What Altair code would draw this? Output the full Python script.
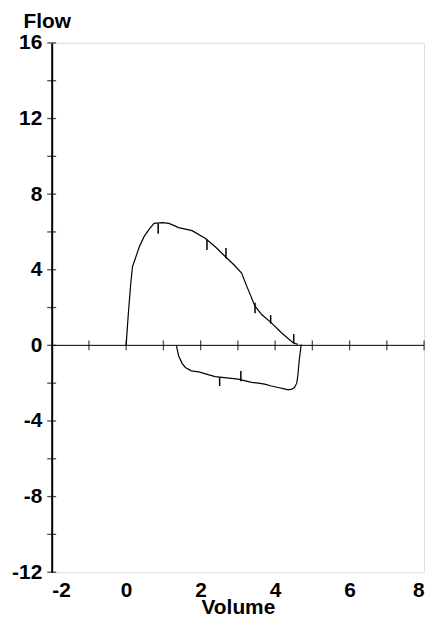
import altair as alt
import pandas as pd

# Expiratory limb (upper loop)
exp_vol = [0, 0.03, 0.06, 0.12, 0.17, 0.23, 0.35, 0.48, 0.62, 0.75, 0.97, 1.15, 1.41, 1.77,
           2.12, 2.4, 2.66, 2.9, 3.1, 3.24, 3.46, 3.64, 3.9, 4.17, 4.48, 4.61]
exp_flow = [0, 0.9, 1.72, 3.2, 4.17, 4.5, 5.2, 5.75, 6.15, 6.45, 6.49, 6.45, 6.23, 6.07,
            5.67, 5.2, 4.7, 4.25, 3.82, 3.12, 2.07, 1.63, 1.19, 0.67, 0.14, 0.05]

# Inspiratory limb (lower loop)
insp_vol = [1.35, 1.38, 1.41, 1.5, 1.59, 1.75, 1.95, 2.2, 2.39, 2.7, 3.01, 3.2, 3.37, 3.55,
            3.72, 3.9, 4.08, 4.25, 4.35, 4.45, 4.52, 4.58, 4.61, 4.65, 4.68, 4.7]
insp_flow = [0, -0.3, -0.56, -0.95, -1.17, -1.35, -1.4, -1.55, -1.65, -1.72, -1.79, -1.88,
             -1.96, -2.0, -2.05, -2.15, -2.23, -2.3, -2.35, -2.32, -2.23, -2.0, -1.61, -0.74,
             -0.3, 0.05]

# Small vertical markers on the curves
mark_vol = [0.86, 2.17, 2.68, 3.46, 3.88, 4.5, 2.51, 3.08]
mark_top = [6.45, 5.6, 5.15, 2.25, 1.6, 0.6, -1.7, -1.35]
mark_bot = [5.9, 5.05, 4.6, 1.7, 1.15, 0.1, -2.15, -1.9]

x_ticks = [-1, 0, 1, 2, 3, 4, 5, 6, 7, 8]
y_ticks = [16, 14, 12, 10, 8, 6, 4, 2, 0, -2, -4, -6, -8, -10, -12]
x_labels = [-2, 0, 2, 4, 6, 8]
y_labels = [16, 12, 8, 4, 0, -4, -8, -12]

FONT = "Liberation Sans"
HYPHEN_LABEL = "datum.value < 0 ? '-' + abs(datum.value) : '' + datum.value"

curve = pd.DataFrame({
    "vol": exp_vol + insp_vol,
    "flow": exp_flow + insp_flow,
    "limb": ["exp"] * len(exp_vol) + ["insp"] * len(insp_vol),
    "ord": list(range(len(exp_vol))) + list(range(len(insp_vol))),
})
markers = pd.DataFrame({"vol": mark_vol, "top": mark_top, "bot": mark_bot})
xt = pd.DataFrame({"v": x_ticks, "z": [0] * len(x_ticks)})
yt = pd.DataFrame({"v": y_ticks, "z": [-2] * len(y_ticks)})

xscale = alt.Scale(domain=[-2, 8], nice=False, zero=False)
yscale = alt.Scale(domain=[-12, 16], nice=False, zero=False)

xaxis = alt.Axis(values=x_labels, domain=False, ticks=False, tickSize=0, grid=False,
                 labelExpr=HYPHEN_LABEL,
                 labelFont=FONT, labelFontSize=21, labelFontWeight="bold", labelColor="black",
                 labelPadding=7, title="Volume", titleFont=FONT, titleFontSize=21,
                 titleFontWeight="bold", titleColor="black", titleBaseline="alphabetic",
                 titleY=42)
yaxis = alt.Axis(values=y_labels, domain=True, domainColor="black", domainWidth=2,
                 ticks=False, tickSize=0, grid=False, labelExpr=HYPHEN_LABEL,
                 labelFont=FONT, labelFontSize=21, labelFontWeight="bold", labelColor="black",
                 labelPadding=10, title="Flow", titleFont=FONT, titleFontSize=21,
                 titleFontWeight="bold", titleColor="black", titleAngle=0,
                 titleAlign="center", titleBaseline="alphabetic", titleX=-5, titleY=-16)

base_axes = alt.Chart(curve).mark_line(color="black", strokeWidth=1.2).encode(
    x=alt.X("vol:Q", scale=xscale, axis=xaxis),
    y=alt.Y("flow:Q", scale=yscale, axis=yaxis),
    detail="limb:N",
    order="ord:Q",
)

zero_line = alt.Chart(xt).mark_rule(color="black", strokeWidth=1).encode(
    x=alt.value(0), x2=alt.value(375),
    y=alt.Y("z:Q", scale=yscale),
).transform_filter("datum.v == 0")

xtick_marks = alt.Chart(xt).mark_tick(color="black", size=10, thickness=1.3,
                                      orient="vertical").encode(
    x=alt.X("v:Q", scale=xscale),
    y=alt.Y("z:Q", scale=yscale),
)

ytick_marks = alt.Chart(yt).mark_tick(color="black", size=9, thickness=1.3,
                                      orient="horizontal").encode(
    x=alt.X("z:Q", scale=xscale),
    y=alt.Y("v:Q", scale=yscale),
)

marker_rules = alt.Chart(markers).mark_rule(color="black", strokeWidth=1.5).encode(
    x=alt.X("vol:Q", scale=xscale),
    y=alt.Y("top:Q", scale=yscale),
    y2="bot:Q",
)

chart = alt.layer(zero_line, xtick_marks, ytick_marks, base_axes, marker_rules).properties(
    width=375, height=533,
    autosize=alt.AutoSizeParams(type="none"),
    padding={"left": 44, "top": 33, "right": 10, "bottom": 48},
).configure_view(stroke=None).configure(background="white")

chart.save("out.html", embed_options={"renderer": "svg", "actions": False})
